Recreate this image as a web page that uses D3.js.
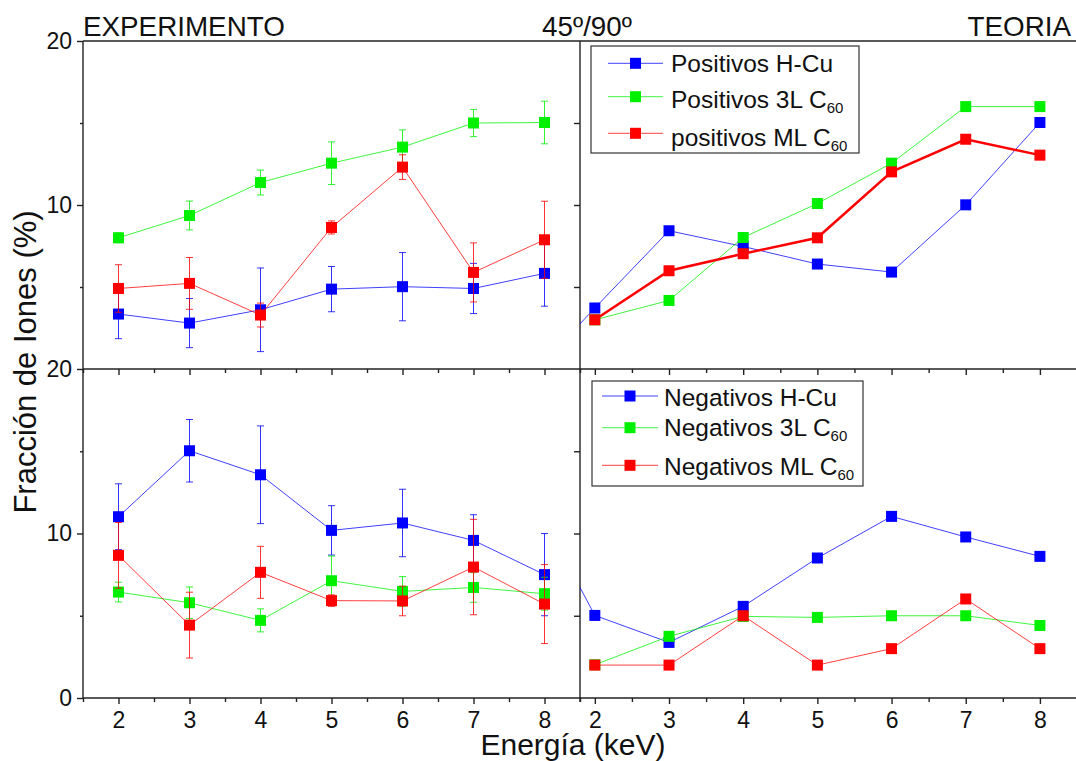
<!DOCTYPE html>
<html><head><meta charset="utf-8">
<script src="https://cdn.jsdelivr.net/npm/d3@7"></script>
<style>
html,body{margin:0;padding:0;background:#fff;}
svg{display:block;font-family:"Liberation Sans",Arial,sans-serif;}
</style></head>
<body>
<svg id="chart" width="1076" height="761"></svg>
<script>
// ---------------- DATA ----------------
const energies = [2, 3, 4, 5, 6, 7, 8];
const energiesTheoryHCu = [1.5, 2, 3, 4, 5, 6, 7, 8];
const xTickValues = [2, 3, 4, 5, 6, 7, 8];
const xMinorValues = [1.5, 2.5, 3.5, 4.5, 5.5, 6.5, 7.5, 8.5];
const yTickValues = [0, 10, 20];
const yMinorValues = [5, 15];

// Experiment, positive ions
const expPosHCu = [3.35, 2.8, 3.61, 4.87, 5.02, 4.91, 5.83];
const expPosHCuErr = [1.5, 1.5, 2.55, 1.38, 2.08, 1.53, 2.0];
const expPos3L = [8.0, 9.36, 11.37, 12.55, 13.53, 15.0, 15.03];
const expPos3LErr = [0.3, 0.88, 0.76, 1.3, 1.05, 0.83, 1.3];
const expPosML = [4.91, 5.22, 3.29, 8.63, 12.31, 5.89, 7.88];
const expPosMLErr = [1.45, 1.58, 0.73, 0.4, 0.75, 1.8, 2.35];

// Theory, positive ions
const thPosHCu = [1.3, 3.72, 8.43, 7.47, 6.4, 5.91, 10.01, 15.03];
const thPos3L = [3.0, 4.18, 8.02, 10.09, 12.55, 16.0, 16.0];
const thPosML = [3.0, 5.99, 7.03, 8.0, 12.02, 14.01, 13.04];

// Experiment, negative ions
const expNegHCu = [11.02, 15.03, 13.57, 10.19, 10.64, 9.58, 7.5];
const expNegHCuErr = [2.0, 1.9, 2.97, 1.5, 2.05, 1.56, 2.5];
const expNeg3L = [6.44, 5.79, 4.72, 7.13, 6.48, 6.72, 6.34];
const expNeg3LErr = [0.6, 0.96, 0.7, 1.5, 0.9, 0.9, 1.0];
const expNegML = [8.67, 4.43, 7.64, 5.92, 5.9, 7.96, 5.71];
const expNegMLErr = [2.0, 2.0, 1.58, 0.35, 0.9, 2.9, 2.4];

// Theory, negative ions
const thNegHCu = [9.27, 5.02, 3.38, 5.57, 8.51, 11.04, 9.79, 8.61];
const thNeg3L = [2.02, 3.75, 4.96, 4.9, 5.0, 5.0, 4.41];
const thNegML = [2.0, 2.0, 5.0, 2.0, 3.0, 6.02, 3.0];

const posLabels = ["Positivos H-Cu", "Positivos 3L C", "positivos ML C"];
const negLabels = ["Negativos H-Cu", "Negativos 3L C", "Negativos ML C"];
const subLabels = ["", "60", "60"];
const titles = ["EXPERIMENTO", "45º/90º", "TEORIA"];
const xTitle = "Energía (keV)";
const yTitle = "Fracción de Iones (%)";

// ---------------- LAYOUT ----------------
const colors = ["#0000ff", "#00f000", "#ff0000"];
const svg = d3.select("#chart");
svg.append("rect").attr("width", 1076).attr("height", 761).attr("fill", "#fff");

const L = 83, M = 580, R = 1077, T = 41, MID = 369, B = 698;
const xL = d3.scaleLinear().domain([1.5, 8.5]).range([L, M]);
const xR = d3.scaleLinear().domain([1.8, 8.5]).range([M, R]);
const yTop = d3.scaleLinear().domain([0, 20]).range([MID, T]);
const yBot = d3.scaleLinear().domain([0, 20]).range([B, MID]);

const defs = svg.append("defs");
function clip(id, x0, x1, y0, y1) {
  defs.append("clipPath").attr("id", id).append("rect")
    .attr("x", x0).attr("y", y0).attr("width", x1 - x0).attr("height", y1 - y0);
}
clip("cTL", L, M, T, MID); clip("cTR", M, R, T, MID);
clip("cBL", L, M, MID, B); clip("cBR", M, R, MID, B);

const axisColor = "#222";
function styleAxis(g) {
  g.selectAll("path").attr("stroke", axisColor).attr("stroke-width", 1.4);
  g.selectAll("line").attr("stroke", axisColor).attr("stroke-width", 1.4);
  g.selectAll("text").attr("fill", "#111").attr("font-size", 23)
    .attr("font-family", "'Liberation Sans',Arial,sans-serif");
}

// x axes (bottom and middle)
[[xL, B, true], [xR, B, true], [xL, MID, false], [xR, MID, false]].forEach(([sc, y, lab]) => {
  const g = svg.append("g").attr("transform", `translate(0,${y})`)
    .call(d3.axisBottom(sc).tickValues(xTickValues).tickSizeInner(6).tickSizeOuter(0)
      .tickPadding(8).tickFormat(lab ? d3.format("d") : ""));
  styleAxis(g);
  g.select("path").remove();
  const gm = svg.append("g").attr("transform", `translate(0,${y})`)
    .call(d3.axisBottom(sc).tickValues(xMinorValues.filter(v => v >= sc.domain()[0] && v <= sc.domain()[1]))
      .tickSizeInner(4).tickSizeOuter(0).tickFormat(""));
  styleAxis(gm);
  gm.select("path").remove();
});

// y axes (left)
[[yTop, [10, 20]], [yBot, [0, 10, 20]]].forEach(([sc, labs]) => {
  const g = svg.append("g").attr("transform", `translate(${L},0)`)
    .call(d3.axisLeft(sc).tickValues(labs).tickSizeInner(6).tickSizeOuter(0).tickPadding(5)
      .tickFormat(d3.format("d")));
  styleAxis(g);
  g.select("path").remove();
  const gm = svg.append("g").attr("transform", `translate(${L},0)`)
    .call(d3.axisLeft(sc).tickValues(yMinorValues).tickSizeInner(3).tickSizeOuter(0).tickFormat(""));
  styleAxis(gm);
  gm.select("path").remove();
  // inward ticks on the divider
  const gd = svg.append("g").attr("transform", `translate(${M},0)`)
    .call(d3.axisLeft(sc).tickValues([5, 10, 15]).tickSizeInner(6).tickSizeOuter(0).tickFormat(""));
  styleAxis(gd);
  gd.select("path").remove();
});

// frame lines
const frame = svg.append("g").attr("stroke", axisColor).attr("stroke-width", 1.4);
frame.append("line").attr("x1", L).attr("x2", 1076).attr("y1", T).attr("y2", T);
frame.append("line").attr("x1", L).attr("x2", 1076).attr("y1", MID).attr("y2", MID);
frame.append("line").attr("x1", L).attr("x2", 1076).attr("y1", B).attr("y2", B);
frame.append("line").attr("x1", L).attr("x2", L).attr("y1", T).attr("y2", B);
frame.append("line").attr("x1", M).attr("x2", M).attr("y1", T).attr("y2", B + 4);

// ---------------- SERIES ----------------
function drawSeries(clipId, xs, ys, xVals, yVals, errs, color, lw) {
  const g = svg.append("g").attr("clip-path", `url(#${clipId})`);
  const pts = xVals.map((x, i) => ({ x, y: yVals[i], e: errs ? errs[i] : 0 }));
  g.append("path").datum(pts)
    .attr("d", d3.line().x(d => xs(d.x)).y(d => ys(d.y)))
    .attr("fill", "none").attr("stroke", color).attr("stroke-width", lw).attr("stroke-opacity", lw > 1.5 ? 1 : 0.75);
  if (errs) {
    const eg = g.append("g").attr("stroke", color).attr("stroke-width", 1).attr("stroke-opacity", 0.8);
    pts.forEach(d => {
      const cx = xs(d.x), y1 = ys(d.y + d.e), y2 = ys(d.y - d.e);
      eg.append("line").attr("x1", cx).attr("x2", cx).attr("y1", y1).attr("y2", y2);
      eg.append("line").attr("x1", cx - 3.5).attr("x2", cx + 3.5).attr("y1", y1).attr("y2", y1);
      eg.append("line").attr("x1", cx - 3.5).attr("x2", cx + 3.5).attr("y1", y2).attr("y2", y2);
    });
  }
  g.selectAll("rect.m").data(pts).join("rect").attr("class", "m")
    .attr("x", d => xs(d.x) - 5.5).attr("y", d => ys(d.y) - 5.5)
    .attr("width", 11).attr("height", 11).attr("fill", color);
}

drawSeries("cTL", xL, yTop, energies, expPosHCu, expPosHCuErr, colors[0], 1);
drawSeries("cTL", xL, yTop, energies, expPos3L, expPos3LErr, colors[1], 1);
drawSeries("cTL", xL, yTop, energies, expPosML, expPosMLErr, colors[2], 1);

drawSeries("cTR", xR, yTop, energiesTheoryHCu, thPosHCu, null, colors[0], 1);
drawSeries("cTR", xR, yTop, energies, thPos3L, null, colors[1], 1);
drawSeries("cTR", xR, yTop, energies, thPosML, null, colors[2], 2.5);

drawSeries("cBL", xL, yBot, energies, expNegHCu, expNegHCuErr, colors[0], 1);
drawSeries("cBL", xL, yBot, energies, expNeg3L, expNeg3LErr, colors[1], 1);
drawSeries("cBL", xL, yBot, energies, expNegML, expNegMLErr, colors[2], 1);

drawSeries("cBR", xR, yBot, energiesTheoryHCu, thNegHCu, null, colors[0], 1);
drawSeries("cBR", xR, yBot, energies, thNeg3L, null, colors[1], 1);
drawSeries("cBR", xR, yBot, energies, thNegML, null, colors[2], 1);

// ---------------- LEGENDS ----------------
function legend(box, rowsY, baseOff, lineX, textX, labels) {
  const g = svg.append("g");
  g.append("rect").attr("x", box[0]).attr("y", box[1]).attr("width", box[2] - box[0]).attr("height", box[3] - box[1])
    .attr("fill", "#fff").attr("stroke", "#333").attr("stroke-width", 1.2);
  labels.forEach((lab, i) => {
    const y = rowsY[i];
    g.append("line").attr("x1", lineX[0]).attr("x2", lineX[1]).attr("y1", y).attr("y2", y)
      .attr("stroke", colors[i]).attr("stroke-width", 1).attr("stroke-opacity", 0.75);
    const cx = (lineX[0] + lineX[1]) / 2;
    g.append("rect").attr("x", cx - 5.5).attr("y", y - 5.5).attr("width", 11).attr("height", 11).attr("fill", colors[i]);
    const t = g.append("text").attr("x", textX).attr("y", y + baseOff[i])
      .attr("font-size", 24.5).attr("fill", "#111");
    t.append("tspan").text(lab);
    if (subLabels[i]) t.append("tspan").attr("font-size", 15).attr("dy", 5).text(subLabels[i]);
  });
}
legend([591, 46, 859, 153], [63.3, 96.7, 133.3], [8.5, 11.5, 12.5], [608, 663], 671, posLabels);
legend([592, 381, 863, 486], [396, 427.7, 465.3], [9.5, 8.5, 9.7], [602, 658], 664, negLabels);

// ---------------- TITLES ----------------
const tg = svg.append("g").attr("font-size", 27.8).attr("fill", "#111");
tg.append("text").attr("x", 83).attr("y", 36).text(titles[0]);
tg.append("text").attr("x", 587).attr("y", 36).attr("text-anchor", "middle").text(titles[1]);
tg.append("text").attr("x", 1071).attr("y", 36).attr("text-anchor", "end").text(titles[2]);

svg.append("text").attr("x", 573).attr("y", 755).attr("text-anchor", "middle")
  .attr("font-size", 30).attr("fill", "#111").text(xTitle);
svg.append("text").attr("transform", `translate(36,362) rotate(-90)`).attr("text-anchor", "middle")
  .attr("font-size", 31).attr("fill", "#111").text(yTitle);
</script>
</body></html>
